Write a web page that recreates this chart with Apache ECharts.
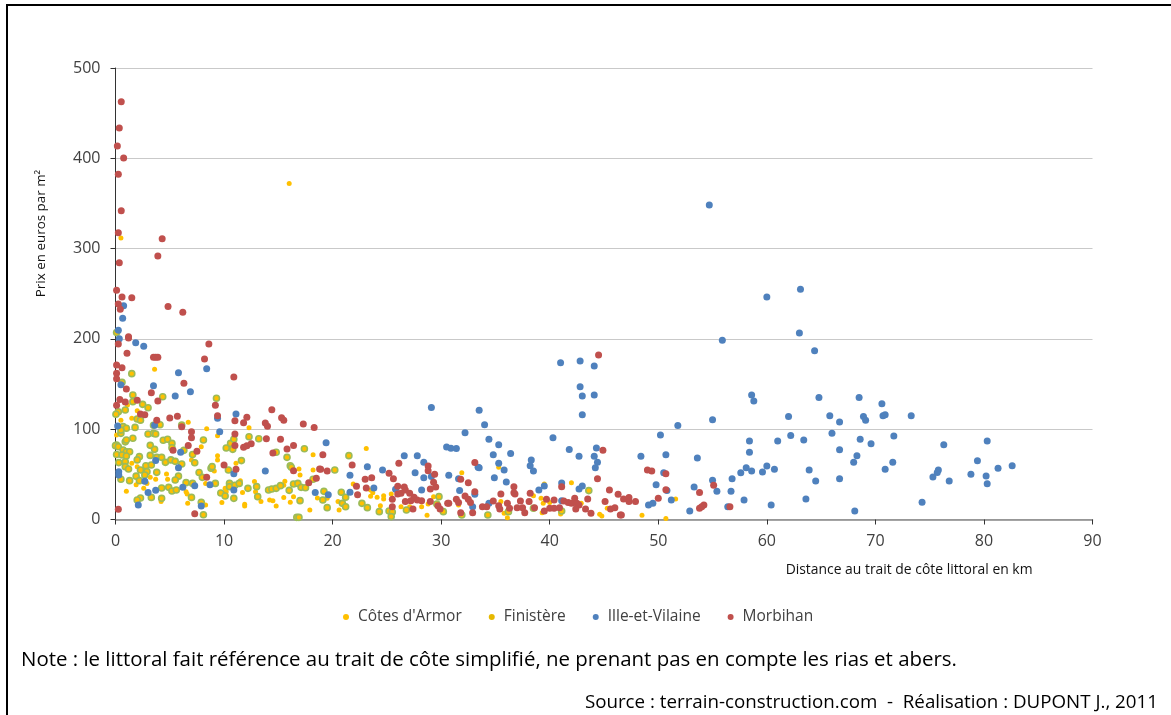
<!DOCTYPE html>
<html><head><meta charset="utf-8">
<style>html,body{margin:0;padding:0;background:#fff}#c{width:1171px;height:715px}</style>
<script src="https://cdn.jsdelivr.net/npm/echarts@6/dist/echarts.min.js"></script>
</head><body><div id="c"></div>
<script>
const seriesNames = ["Côtes d'Armor", "Finistère", "Ille-et-Vilaine", "Morbihan"];
const cotesArmor = [[16,372],[0.5,311.7],[3.6,166.3],[0.5,110],[1.5,112],[1.1,126.8],[6.7,107.6],[8.4,100.6],[9.4,92.8],[12.3,101.7],[2.4,110],[2,120.5],[0.1,93.6],[7.9,80.7],[9.4,70.7],[9.4,66],[7,66],[11.1,62.2],[18.2,71.8],[16.9,55.9],[17,49.3],[18.2,54.8],[1.5,62.2],[2,58.5],[1.9,47.4],[4.7,50.4],[4.8,44.5],[3.2,46.7],[3.7,44.5],[9.1,53.7],[8.3,40],[1,31.2],[1.9,38.6],[2.6,34.5],[2.9,40],[4.2,20],[6.65,17.9],[6.5,30.8],[6.6,28.2],[8.3,16],[9.8,18.7],[10.1,34.5],[10.2,30.8],[11.5,43],[11.7,30],[11.9,17],[11.9,15],[12.8,42],[12.9,30.8],[13.4,19.8],[14.2,21.6],[14.5,20.9],[14.8,15],[15.5,24.5],[15.6,42.3],[15.5,38],[16.1,19],[16.4,25.3],[17.9,10.5],[18.6,23.8],[23.1,78.5],[21.9,39.3],[23.5,32.7],[23.7,29.7],[23.5,25.7],[24.1,24.6],[24.7,26.4],[24.7,22.7],[24.4,15.3],[25.4,28.3],[26.3,14.2],[27.1,14.2],[28.2,14.2],[28.7,4.6],[28.8,17.2],[29.3,25.3],[31.9,51.9],[31.6,16],[35.3,57.8],[35.5,19.8],[35.8,6.8],[36.1,2],[38.5,26.4],[39.2,23.5],[39.4,18],[39.3,7.6],[39.5,39.3],[40,18.7],[41,6.1],[42,40.8],[42.9,18],[44.6,5.7],[44.8,3.9],[45.3,12.4],[20.5,19.8],[20.6,10.5],[19.5,23.5],[25.2,9.4],[51.6,22.7],[48.5,4.6],[50.7,1]];
const finistere = [[1.5,161.5],[0.6,151.9],[9.3,134.2],[4.35,136],[1.6,137.9],[1.6,130.5],[2.5,127.5],[3,123.8],[0.1,207],[0.26,119.4],[0.04,116.5],[0.9,121.3],[2,111.3],[2.3,110],[0.7,102.8],[1,101],[1.8,102],[3.5,104.3],[4.1,105],[6.1,104.6],[3,94.7],[3.5,95.4],[3.7,94.7],[0.5,95.4],[0.5,99],[1.6,89.9],[0.9,86],[1,88],[4.4,87.7],[4.8,88.8],[5.2,84.3],[5.2,79.5],[3.2,82.1],[3.6,77.7],[0.1,82.5],[0,81.8],[0.26,80.6],[0.7,77],[1,75],[1.3,75],[0.1,72],[0.6,71.4],[1,70.3],[2.2,69.6],[2,66],[3.2,71],[3.8,68.8],[4.25,68.8],[4.6,63.3],[5.1,66],[5.5,64.4],[6.1,61.5],[6.3,76.6],[7.1,72],[7.3,62.9],[0.3,63],[0.9,64],[0.9,58.5],[1.2,55.9],[2.8,59.6],[3.3,60.3],[2.3,54.8],[2.9,53],[3.8,52.2],[1.9,48],[2.7,49.3],[0.5,44.5],[1.3,43],[2.2,43],[5.8,48],[5.5,43.7],[7.7,52],[8,46.7],[8.8,56.7],[8.9,58.5],[9.2,40],[6.5,40.8],[7.1,40],[4.25,34.9],[4.9,35.6],[5.2,31.5],[5.6,32.7],[3.3,24.5],[4.25,23.4],[2.3,23.8],[2,21.6],[7,24.5],[7.9,19],[8.1,5.3],[9.7,29.3],[10.1,26],[10.5,40],[10.5,36.4],[11,38],[11.4,40],[12.2,34.5],[13,36.4],[13.1,25.3],[10.9,23.4],[14.1,32.7],[14.4,33.8],[14.8,34.5],[15.2,37.5],[16,32.3],[16.4,39.3],[16.8,40],[17.1,35.6],[17.5,35.2],[17,20.9],[16.7,2.4],[16.9,2.4],[12.3,91.7],[13.2,89.5],[10.2,79.2],[10.6,84.3],[10.8,77.7],[10.9,88.8],[11.6,65.2],[10.4,54.8],[15.8,68.8],[16.1,59.6],[16.2,57.8],[17.4,78.4],[14.8,74.4],[8.1,88],[18.2,44.5],[20.2,54.8],[21.5,70.7],[19.2,31.2],[19.1,21.6],[20.8,30.1],[21.2,24.6],[20.9,17.9],[21.2,14.2],[19.5,13.1],[22.7,17.9],[23.2,13.1],[24.3,8.7],[25.2,9.4],[25.5,8.3],[25.4,3.2],[26.8,10.5],[29.8,25.3],[29.6,17.2],[30.2,8.7],[31.9,5],[34.3,5],[36.2,8.7],[38.5,12.4],[41.1,9.4],[43.6,32]];
const illeEtVilaine = [[54.7,348.3],[60,246.4],[63.1,254.9],[63,206.5],[64.4,187],[55.9,198.4],[58.6,137.9],[58.8,131.2],[64.8,135],[68.5,135],[70.6,128.3],[70.7,115],[70.9,116],[73.3,115],[62,114],[65.8,115],[66.7,108],[68.9,114],[69.1,110],[55,110.6],[51.8,104],[50.2,93.6],[58.4,87],[61,87],[62.2,93],[63.4,88],[66,95.4],[68.6,88.8],[69.6,84],[71.7,92.5],[76.3,82.9],[80.3,87],[48.4,70],[50.7,71.8],[53.6,68],[58.4,74.4],[66.7,77.3],[68.3,70.7],[68,63.3],[71.6,63.3],[70.9,55.6],[79.4,65],[81.3,56.7],[82.6,59.6],[80.2,48.2],[80.3,39.7],[78.8,50],[75.8,54.8],[75.7,52],[75.3,47],[76.8,42.6],[63.9,54.8],[64.5,42.6],[66.7,45.2],[60.7,55.6],[59.6,52.6],[60,59.2],[58.6,53.7],[58.1,57.4],[57.6,51.9],[56.8,45.2],[55,43.4],[56.7,31.2],[55.4,31.2],[53.3,36],[49.8,38.6],[50.5,51.9],[50.8,32],[51.2,21.6],[49.1,16],[49.5,18],[52.9,9.4],[56.4,14.2],[57.9,21.6],[60.4,16],[63.6,22.7],[68.1,9.4],[74.3,19],[29.1,123.9],[33.5,120.9],[34,105],[32.2,96.2],[34.4,88.8],[35.3,82.9],[30.5,80.3],[30.9,78.8],[31.4,78.5],[34.8,71.8],[36.4,73],[35.3,62.2],[35.8,54.8],[33.4,57.8],[33.5,57.4],[34.9,46.3],[36,41.6],[41,173.7],[42.8,175.5],[44.1,170],[42.8,147],[43,136.8],[44.1,137.9],[43,116],[40.3,90.6],[41.8,77.4],[42.7,70],[44.3,79.2],[44.1,70],[44.4,63.3],[44.2,57.4],[38.3,65.9],[38.2,59.6],[38.5,53.7],[39,32.7],[39.5,37.1],[41.1,40.4],[41.1,20.9],[42.7,33.8],[43,37.1],[26.6,70.7],[27.8,70.7],[28.4,63.3],[23.2,58.5],[24.6,54.8],[27.6,51.9],[28.4,46.3],[29.1,47.5],[21.6,48.9],[30.7,48.9],[31.6,45.2],[31.7,32],[33.1,27.9],[32.9,14.2],[28.2,32.7],[23.8,34.9],[25.8,33.4],[21.6,30.1],[19.6,27.5],[19.4,85],[34.4,18],[0.75,236.8],[0.66,222.8],[0.26,209.5],[0.35,200.3],[1.86,195.8],[2.6,191.8],[5.8,162.6],[8.4,167],[3.5,148],[0.5,149.3],[5.5,136.8],[6.9,141.6],[11.1,116.8],[9.4,112],[3.6,104.3],[0.2,103.5],[9.6,97.3],[6,74.4],[3.7,65.2],[5.8,57.4],[13.8,53.7],[10.9,50.8],[0.3,53],[0.3,49.3],[2.7,42.3],[7.3,37.5],[8.7,38.6],[6.2,35.6],[3,30],[3.7,32.3],[10.9,32.7],[18.4,30],[2.1,16],[7.9,15]];
const morbihan = [[0.53,462.7],[0.35,433.5],[0.17,413.6],[0.75,400.3],[0.26,382.3],[0.53,342],[0.26,317.5],[4.3,311],[3.9,291.8],[0.35,284.4],[0.1,253.8],[0.6,246.4],[1.5,245.7],[0.26,238.6],[0.44,232.7],[4.84,236],[6.2,229.4],[1.2,202.5],[1.2,201],[0.26,194.4],[1.06,184],[8.6,194.4],[3.5,179.6],[3.7,179.6],[3.9,179.6],[8.2,177.7],[0.1,171],[0.6,168],[0.1,161.9],[0.1,156],[10.9,157.8],[6.3,150.8],[3.3,140.5],[1,144.5],[3.9,131.2],[2,132],[0.4,133],[0.9,130],[0.1,126.4],[9.2,126.4],[14.4,121.6],[9.4,115],[11,109.4],[12.1,113.1],[11.8,107.2],[15.3,112.8],[15.5,109.8],[13.8,106.9],[14,103.2],[17.3,105.8],[18.3,102],[2.3,116.8],[2.7,116],[3.8,110],[5,112.4],[5.7,114.3],[6.1,102.8],[7,97.3],[7,90.6],[6.7,82],[5.3,76.6],[7.5,75.5],[11,94.7],[11,82],[11.8,79.9],[12.1,81.8],[12.5,84],[13.9,89.5],[15.2,88.8],[16.4,82],[15.8,78],[14.5,73.6],[10,60.4],[11.1,55.6],[16.4,54],[8.4,46.7],[17.8,40.8],[18.5,45.6],[18.8,56],[7.3,6.5],[0.26,11.3],[44.5,182.2],[44.9,76.6],[44.4,45.2],[19.1,71.8],[18.9,55.6],[19.5,53.7],[21.8,60.4],[22.2,36.7],[22.3,27.5],[23,44.5],[23.6,46.3],[23.1,34.9],[26.1,62.2],[25.2,51.1],[25.6,45.2],[26,36.7],[26.6,36],[26,28.3],[26.3,29],[26.7,32.7],[27.1,29],[27.5,24.6],[27.8,21.6],[28.2,20.9],[26.7,19.8],[27.2,20.9],[25.5,22.4],[25.5,14.2],[27.4,11.6],[29,33.8],[29.5,36],[29.3,41.2],[29.4,50],[28.8,54.1],[28.8,59.3],[29,19.8],[29.7,15.3],[29.9,11.6],[30.6,18],[30.7,18],[31.4,22.4],[31.6,18.7],[31.8,44.5],[32.5,40.8],[33.1,63],[32.2,26],[32.5,22.4],[32.7,18.7],[33.1,30.8],[31.8,7.6],[32.9,7.6],[33.8,14.2],[34.2,14.2],[34.8,20.5],[35.3,15.3],[35.4,11.6],[35.5,28.3],[36.1,18],[36.3,12.4],[36.7,36.4],[36.7,29.7],[36.8,28.3],[37,13.1],[37.5,13.1],[37.7,7.6],[37.3,20.5],[38.2,29],[38.1,19.8],[38.6,13.1],[39.5,9.4],[40,12.4],[40.4,12.4],[40.9,13.1],[39.7,22.4],[40.4,21.6],[41.1,36.4],[41.3,20.5],[41.7,18.7],[42,18],[42.3,23.5],[42.5,18],[42.7,16.1],[42.4,11.6],[43.5,22.7],[43.3,11.6],[43.8,6.8],[45.1,19.8],[45.5,32.7],[45.6,11.6],[46,13.1],[46.3,27.9],[46.5,5],[49,54.8],[49.4,53.7],[50.7,50.8],[50.7,33],[50,23.4],[55.1,37.8],[53.8,30],[54.2,16],[53.8,12.4],[54,14],[56.6,14.2],[47.3,24.5],[46.8,22.7],[47.3,20],[47.9,20],[46.6,5]];
const xAxisName = "Distance au trait de côte littoral en km";
const yAxisName = "Prix en euros par m²";
const noteText = "Note : le littoral fait référence au trait de côte simplifié, ne prenant pas en compte les rias et abers.";
const sourceText = "Source : terrain-construction.com  -  Réalisation : DUPONT J., 2011";

const chart = echarts.init(document.getElementById('c'), null, {renderer:'canvas'});
const font = '"Open Sans", Lato, sans-serif';
const yellow = '#ffc000', green = '#9bbb59', blue = '#4f81bd', red = '#c0504d';
const mk = (name, data, size, color, border, z) => ({
  name, type:'scatter', data, symbol:'circle', symbolSize:size, z,
  itemStyle:{color, borderColor:border, borderWidth:border?1.6:0, opacity:1},
  emphasis:{disabled:true}, silent:true, animation:false
});
chart.setOption({
  animation:false,
  backgroundColor:'#fff',
  textStyle:{fontFamily:font},
  grid:{left:115.5,top:68,width:977,height:451.5,containLabel:false,outerBoundsMode:'none'},
  xAxis:{type:'value',min:0,max:90,interval:10,
    axisLine:{show:true,lineStyle:{color:'#868686',width:1.5}},
    axisTick:{show:true,length:5,inside:false,lineStyle:{color:'#333'}},
    axisLabel:{fontSize:16,color:'#404040',margin:14,fontFamily:font},
    splitLine:{show:false},
    name:xAxisName,nameLocation:'end',nameGap:-60,
    nameTextStyle:{fontSize:13.9,color:'#111',fontFamily:font,align:'right',verticalAlign:'top',padding:[44,0,0,0]}},
  yAxis:{type:'value',min:0,max:500,interval:100,
    axisLine:{show:true,onZero:false,lineStyle:{color:'#333',width:1}},
    axisTick:{show:true,length:5,inside:false,lineStyle:{color:'#333'}},
    axisLabel:{fontSize:16,color:'#404040',margin:15,fontFamily:font,padding:[3,0,0,0]},
    splitLine:{show:true,lineStyle:{color:'#c9c9c9',width:1}}},
  legend:{show:true,left:338,top:604,itemWidth:6,itemHeight:6,itemGap:27,icon:'circle',
    data:seriesNames.map((n,i)=>({name:n,itemStyle:{color:[yellow,'#e6b800',blue,red][i],borderWidth:0}})),
    textStyle:{fontSize:15.5,color:'#404040',fontFamily:font,padding:[0,0,0,4]}},
  series:[
    mk(seriesNames[0],cotesArmor,5,yellow,null,2),
    mk(seriesNames[1],finistere,6,yellow,green,3),
    mk(seriesNames[2],illeEtVilaine,7,blue,null,4),
    mk(seriesNames[3],morbihan,7,red,null,5)
  ],
  graphic:[
    {type:'rect',silent:true,shape:{x:6,y:4,width:1165,height:2},style:{fill:'#000'}},
    {type:'rect',silent:true,shape:{x:6,y:4,width:2,height:711},style:{fill:'#000'}},
    {type:'text',silent:true,x:41,y:233.5,rotation:Math.PI/2,style:{text:yAxisName,align:'center',verticalAlign:'middle',font:'13.4px '+font,fill:'#111'}},
    {type:'text',silent:true,x:21,y:650,style:{text:noteText,font:'20.45px '+font,fill:'#000'}},
    {type:'text',silent:true,x:1158,y:693,style:{text:sourceText,align:'right',font:'18.75px '+font,fill:'#000'}}
  ]
});
</script></body></html>
